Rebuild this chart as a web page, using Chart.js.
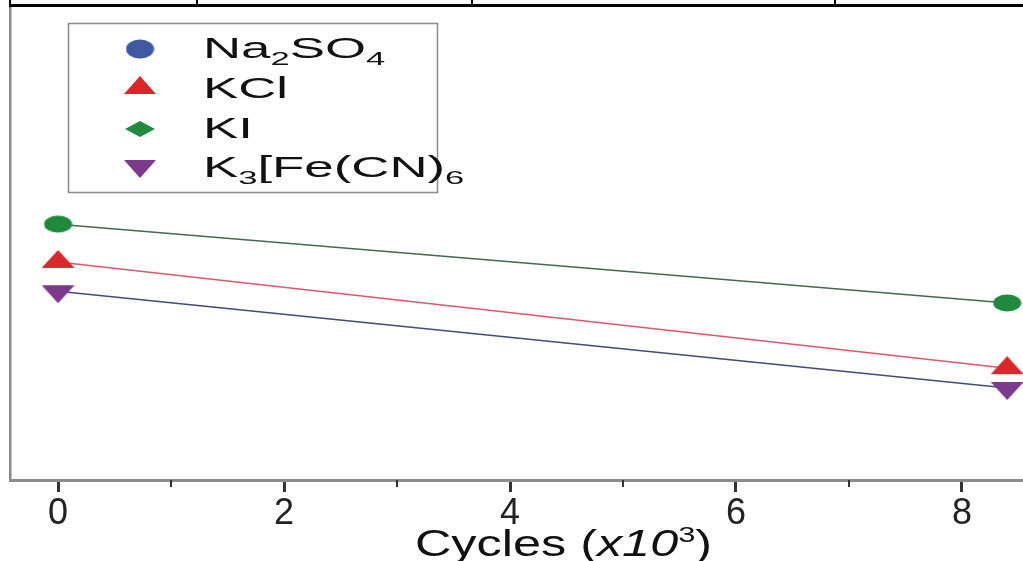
<!DOCTYPE html>
<html><head><meta charset="utf-8">
<script src="https://cdn.jsdelivr.net/npm/chart.js@4.4.0/dist/chart.umd.min.js"></script>
<style>html,body{margin:0;padding:0;background:#fff;overflow:hidden}
#wrap{position:relative;width:1023px;height:561px}</style></head>
<body><div id="wrap"><canvas id="c"></canvas></div>
<script>
// ---- data ----
const cycles = [0, 8.4];                 // x10^3 cycles
const seriesNames = ['Na₂SO₄', 'KCl', 'KI', 'K₃[Fe(CN)₆'];
const na2so4 = [40.0, 19.5];
const kcl = [46.2, 23.7];
const ki = [54.2, 37.5];
const k3fecn6 = [40.0, 19.5];
const majorTicks = [0, 2, 4, 6, 8];
const minorTicks = [1, 3, 5, 7];
const xAxisTitle = 'Cycles (x10³)';

const FONT = '"Liberation Sans", Arial, sans-serif';
const C = {blue:'#3f5aa3', red:'#d8282c', green:'#1f8a3c', purple:'#7c3a8c'};

function mk(w, h, draw) { const c = document.createElement('canvas'); c.width = w; c.height = h; const g = c.getContext('2d'); draw(g, w, h); return c; }
const ellipse = (fill, w, h) => mk(w, h, g => { g.fillStyle = fill; g.beginPath(); g.ellipse(w/2, h/2, w/2-0.5, h/2-0.5, 0, 0, Math.PI*2); g.fill(); });
const triUp = (fill, w, th) => mk(w, Math.round(th*4/3), g => { g.fillStyle = fill; g.beginPath(); g.moveTo(w/2, 0); g.lineTo(w, th); g.lineTo(0, th); g.closePath(); g.fill(); });
const triDown = (fill, w, th) => mk(w, Math.round(th*4/3), (g, W, H) => { g.fillStyle = fill; g.beginPath(); g.moveTo(0, H-th); g.lineTo(w, H-th); g.lineTo(w/2, H); g.closePath(); g.fill(); });
const diamond = (fill, w, h) => mk(w, h, g => { g.fillStyle = fill; g.beginPath(); g.moveTo(w/2, 0); g.lineTo(w, h/2); g.lineTo(w/2, h); g.lineTo(0, h/2); g.closePath(); g.fill(); });

const mGreen = ellipse(C.green, 29, 18);
const mRed = triUp(C.red, 33, 18);
const mPurple = triDown(C.purple, 33, 18);
const legendMarks = [ellipse(C.blue, 29, 20), triUp(C.red, 32, 18), diamond(C.green, 30, 16), triDown(C.purple, 32, 18)];

const SUB = '₀₁₂₃₄₅₆₇₈₉';
function drawRich(ctx, text, x, y, size, sx) {
  ctx.save(); ctx.translate(x, y); ctx.scale(sx, 1);
  ctx.textBaseline = 'alphabetic'; ctx.textAlign = 'left'; ctx.fillStyle = '#111';
  let cx = 0;
  for (const ch of text) {
    const i = SUB.indexOf(ch);
    if (i >= 0) { ctx.font = `${Math.round(size*0.66)}px ${FONT}`; ctx.fillText(String(i), cx, size*0.25); cx += ctx.measureText(String(i)).width; }
    else { ctx.font = `${size}px ${FONT}`; ctx.fillText(ch, cx, 0); cx += ctx.measureText(ch).width; }
  }
  ctx.restore();
}

const deco = {
  id: 'deco',
  beforeDraw(chart) {
    const ctx = chart.ctx; ctx.save();
    ctx.strokeStyle = '#000'; ctx.lineWidth = 3;
    ctx.beginPath(); ctx.moveTo(9, 5.5); ctx.lineTo(1023, 5.5); ctx.stroke();
    ctx.lineWidth = 2;
    for (const x of [10, 197, 472, 835]) { ctx.beginPath(); ctx.moveTo(x, 0); ctx.lineTo(x, 5); ctx.stroke(); }
    ctx.restore();
  },
  afterDraw(chart) {
    const ctx = chart.ctx; const xs = chart.scales.x; const a = chart.chartArea;
    ctx.save();
    // minor ticks
    ctx.strokeStyle = '#333'; ctx.lineWidth = 2;
    for (const v of minorTicks) { const px = Math.round(xs.getPixelForValue(v)); ctx.beginPath(); ctx.moveTo(px, a.bottom); ctx.lineTo(px, a.bottom + 7); ctx.stroke(); }
    // legend box
    ctx.strokeStyle = '#8a8a8a'; ctx.lineWidth = 1.5;
    ctx.strokeRect(68.5, 23.5, 369, 169);
    const rows = [49, 88, 129, 166];
    const bases = [58, 98, 138, 177];
    seriesNames.forEach((name, i) => {
      const m = legendMarks[i];
      ctx.drawImage(m, 140 - m.width/2, rows[i] - m.height/2);
      drawRich(ctx, name, 203, bases[i], 29, 1.82);
    });
    // axis title
    const size = 36;
    const parts = [['Cycles (', ''], ['x10', 'italic '], ['3', 'sup'], [')', '']];
    let widths = [], total = 0;
    parts.forEach(([t, st]) => { ctx.font = st === 'sup' ? `${Math.round(size*0.6)}px ${FONT}` : `${st}${size}px ${FONT}`; const w = ctx.measureText(t).width; widths.push(w); total += w; });
    const sx = 1.4;
    ctx.translate(563.5 - total*sx/2, 556); ctx.scale(sx, 1);
    ctx.fillStyle = '#111'; ctx.textBaseline = 'alphabetic';
    let cx = 0;
    parts.forEach(([t, st], k) => {
      ctx.font = st === 'sup' ? `${Math.round(size*0.6)}px ${FONT}` : `${st}${size}px ${FONT}`;
      ctx.fillText(t, cx, st === 'sup' ? -size*0.38 : 0); cx += widths[k];
    });
    ctx.restore();
  }
};

new Chart(document.getElementById('c'), {
  type: 'line',
  data: {
    datasets: [
      { label: seriesNames[3], data: cycles.map((x, i) => ({x, y: k3fecn6[i]})), showLine: false, pointStyle: mPurple, pointRadius: 8, order: 1, clip: false },
      { label: seriesNames[1], data: cycles.map((x, i) => ({x, y: kcl[i]})), borderColor: '#e0566a', borderWidth: 1.5, pointStyle: mRed, pointRadius: 8, order: 2, clip: false },
      { label: seriesNames[2], data: cycles.map((x, i) => ({x, y: ki[i]})), borderColor: '#46684f', borderWidth: 1.5, pointStyle: mGreen, pointRadius: 8, order: 3, clip: false },
      { label: seriesNames[0], data: cycles.map((x, i) => ({x, y: na2so4[i]})), borderColor: '#414c78', borderWidth: 1.5, pointRadius: 0, order: 4, clip: false }
    ]
  },
  options: {
    responsive: true, maintainAspectRatio: false, animation: false,
    layout: { autoPadding: false, padding: { left: 10, top: 8, right: 0, bottom: 0 } },
    plugins: { legend: { display: false }, tooltip: { enabled: false } },
    scales: {
      x: {
        type: 'linear', min: -0.425, max: 8.54,
        afterBuildTicks: s => { s.ticks = majorTicks.map(v => ({ value: v })); },
        afterFit: s => { s.height = 81; },
        ticks: { font: { family: FONT, size: 36 }, color: '#222', padding: 0, callback: v => String(v) },
        grid: { drawOnChartArea: false, drawTicks: true, tickLength: 12, tickColor: '#333', tickWidth: 3 },
        border: { color: '#8c8c8c', width: 3 },
        title: { display: false, text: xAxisTitle }
      },
      y: {
        min: 0, max: 100,
        afterFit: s => { s.width = 0; },
        ticks: { display: false },
        grid: { drawOnChartArea: false, drawTicks: false },
        border: { color: '#8c8c8c', width: 2.5 }
      }
    }
  },
  plugins: [deco]
});
</script>
</body></html>
